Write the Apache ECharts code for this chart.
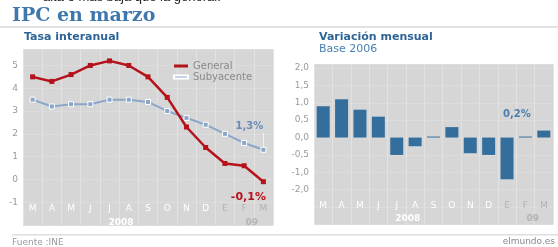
<!DOCTYPE html>
<html>
<head>
<meta charset="utf-8">
<script src="https://cdn.jsdelivr.net/npm/echarts@6/dist/echarts.min.js"></script>
<style>
  html, body { margin: 0; padding: 0; background: #fff; }
  #chart { width: 558px; height: 247px; }
</style>
</head>
<body>
<div id="chart"></div>
<script>
// datos
var months = ['M', 'A', 'M', 'J', 'J', 'A', 'S', 'O', 'N', 'D', 'E', 'F', 'M'];
var yearLabels = ['2008', '09'];
var yearPositions = [4.6, 11.4]; // posicion (en indice de mes) de cada año
var general = [4.5, 4.3, 4.6, 5.0, 5.2, 5.0, 4.5, 3.6, 2.3, 1.4, 0.7, 0.6, -0.1];
var subyacente = [3.5, 3.2, 3.3, 3.3, 3.5, 3.5, 3.4, 3.0, 2.7, 2.4, 2.0, 1.6, 1.3];
var mensual = [0.9, 1.1, 0.8, 0.6, -0.5, -0.25, 0.0, 0.3, -0.45, -0.5, -1.2, 0.0, 0.2];
// etiquetas del eje derecho tal como aparecen (el ultimo dice -2,0)
var rightTickValues = [-1.5, -1, -0.5, 0, 0.5, 1, 1.5, 2];
var rightTickLabels = ['-2,0', '-1,0', '-0,5', '0,0', '0,5', '1,0', '1,5', '2,0'];

var FONT = 'DejaVu Sans';
var gray = '#d6d6d6';
var red = '#b5121b';
var blueGray = '#8aa6c8';
var barBlue = '#336e9c';

function pct (v) {
  return String(v).replace('.', ',') + '%';
}
function monthColor (value, index) {
  return index >= 10 ? '#b3b3b3' : '#ffffff';
}

var chart = echarts.init(document.getElementById('chart'));

function monthAxis (gridIndex, margin) {
  return {
    type: 'category',
    gridIndex: gridIndex,
    position: 'bottom',
    data: months,
    boundaryGap: true,
    axisLine: { show: false },
    axisTick: { show: false },
    axisLabel: {
      inside: true,
      margin: margin,
      fontFamily: FONT,
      fontSize: 9,
      color: monthColor
    },
    splitLine: { show: true, lineStyle: { color: '#e2e2e2', width: 1 } }
  };
}
function yearAxis (gridIndex, margin) {
  return {
    type: 'value',
    gridIndex: gridIndex,
    position: 'bottom',
    min: -0.5,
    max: 12.5,
    axisLine: { show: false },
    axisTick: { show: false },
    splitLine: { show: false },
    axisLabel: {
      inside: true,
      margin: margin,
      customValues: yearPositions,
      fontFamily: FONT,
      fontSize: 9,
      fontWeight: 'bold',
      formatter: function (v) {
        var i = yearPositions.indexOf(Number(v));
        return i >= 0 ? yearLabels[i] : '';
      },
      color: function (v) {
        return yearPositions.indexOf(Number(v)) === 1 ? '#b3b3b3' : '#ffffff';
      }
    }
  };
}

chart.setOption({
  animation: false,
  textStyle: { fontFamily: FONT },
  grid: [
    { left: 23, top: 49.5, width: 250, height: 175.5, show: true, backgroundColor: gray, borderWidth: 0 },
    { left: 314, top: 64.5, width: 239, height: 160, show: true, backgroundColor: gray, borderWidth: 0 }
  ],
  legend: {
    data: ['General', 'Subyacente'],
    orient: 'vertical',
    left: 168,
    top: 56,
    icon: 'rect',
    itemWidth: 14,
    itemHeight: 3,
    itemGap: 1,
    textStyle: { fontFamily: FONT, fontSize: 10, color: '#8a8a8a' }
  },
  xAxis: [
    monthAxis(0, 12),
    yearAxis(0, -2),
    monthAxis(1, 14),
    yearAxis(1, 1)
  ],
  yAxis: [
    {
      type: 'value',
      gridIndex: 0,
      min: -2,
      max: 5.7,
      interval: 1,
      axisLine: { show: false },
      axisTick: { show: false },
      axisLabel: {
        margin: 5,
        fontFamily: FONT,
        fontSize: 9,
        color: '#9a9a9a',
        formatter: function (v) {
          if (v < -1.5 || v > 5.5) return '';
          return String(Math.round(v));
        }
      },
      splitLine: { show: true, lineStyle: { color: '#dcdcdc' } }
    },
    {
      type: 'value',
      gridIndex: 1,
      min: -2.5,
      max: 2.1,
      interval: 0.5,
      axisLine: { show: false },
      axisTick: { show: false },
      axisLabel: {
        margin: 5,
        fontFamily: FONT,
        fontSize: 9,
        color: '#9a9a9a',
        formatter: function (v) {
          var r = Math.round(v * 10) / 10;
          var i = rightTickValues.indexOf(r);
          return i >= 0 ? rightTickLabels[i] : '';
        }
      },
      splitLine: { show: true, lineStyle: { color: '#dcdcdc' } }
    }
  ],
  series: [
    {
      name: 'Subyacente',
      type: 'line',
      xAxisIndex: 0,
      yAxisIndex: 0,
      z: 3,
      data: subyacente.map(function (v, i) {
        if (i !== subyacente.length - 1) return v;
        return {
          value: v,
          label: {
            show: true,
            position: 'top',
            offset: [-14, -10],
            formatter: function (p) { return pct(p.value); },
            fontFamily: FONT,
            fontSize: 10,
            fontWeight: 'bold',
            color: '#6a8cb6'
          }
        };
      }),
      symbol: 'rect',
      symbolSize: 5,
      showAllSymbol: true,
      lineStyle: { color: blueGray, width: 2 },
      itemStyle: { color: blueGray, borderColor: '#ffffff', borderWidth: 1 },
      markLine: {
        silent: true,
        symbol: 'none',
        label: { show: false },
        lineStyle: { color: '#eef2f8', width: 1, type: 'solid' },
        data: [[{ coord: [12, 1.45] }, { coord: [12, 2.05] }]]
      }
    },
    {
      name: 'General',
      type: 'line',
      xAxisIndex: 0,
      yAxisIndex: 0,
      z: 4,
      data: general.map(function (v, i) {
        if (i !== general.length - 1) return v;
        return {
          value: v,
          label: {
            show: true,
            position: 'bottom',
            offset: [-15, 2],
            formatter: function (p) { return pct(p.value); },
            fontFamily: FONT,
            fontSize: 11,
            fontWeight: 'bold',
            color: red
          }
        };
      }),
      symbol: 'rect',
      symbolSize: 5,
      showAllSymbol: true,
      lineStyle: { color: red, width: 2.5 },
      itemStyle: { color: red }
    },
    {
      name: 'Mensual',
      type: 'bar',
      xAxisIndex: 2,
      yAxisIndex: 1,
      barWidth: 13,
      barMinHeight: 1,
      itemStyle: { color: barBlue },
      data: mensual.map(function (v, i) {
        if (i !== mensual.length - 1) return v;
        return {
          value: v,
          label: {
            show: true,
            position: 'top',
            offset: [-27, -6],
            formatter: function (p) { return pct(p.value); },
            fontFamily: FONT,
            fontSize: 10,
            fontWeight: 'bold',
            color: '#4a7fae'
          }
        };
      })
    }
  ],
  graphic: [
    { type: 'text', left: 43, top: -9, style: { text: 'alta o más baja que la general.', font: '13px "Liberation Sans"', fill: '#222' } },
    { type: 'text', left: 12, top: 7, style: { text: 'IPC en marzo', font: 'bold 19px "DejaVu Serif"', fill: '#3f78ad' } },
    { type: 'rect', shape: { x: 0, y: 26, width: 558, height: 2 }, style: { fill: '#e2e2e2' } },
    { type: 'text', left: 24, top: 32, style: { text: 'Tasa interanual', font: 'bold 11px "DejaVu Sans"', fill: '#2e6596' } },
    { type: 'text', left: 319, top: 32, style: { text: 'Variación mensual', font: 'bold 11px "DejaVu Sans"', fill: '#2e6596' } },
    { type: 'text', left: 319, top: 44, style: { text: 'Base 2006', font: '11px "DejaVu Sans"', fill: '#4a80b4' } },
    { type: 'rect', shape: { x: 12, y: 234, width: 546, height: 1.5 }, style: { fill: '#dedede' } },
    { type: 'text', left: 12, top: 238, style: { text: 'Fuente :INE', font: '9px "DejaVu Sans"', fill: '#999' } },
    { type: 'text', right: 3, top: 237, style: { text: 'elmundo.es', font: '9px "DejaVu Sans"', fill: '#888' } }
  ]
});
</script>
</body>
</html>
